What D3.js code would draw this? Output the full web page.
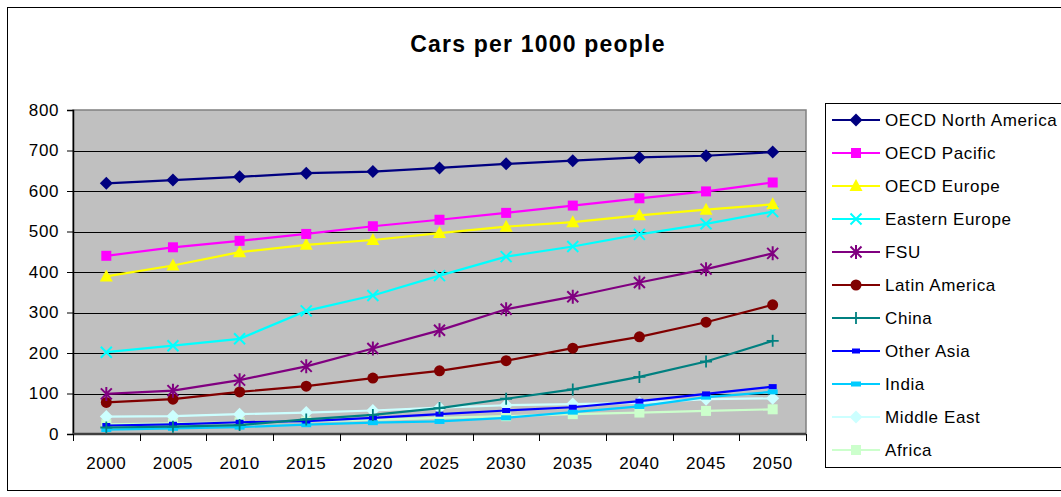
<!DOCTYPE html>
<html>
<head>
<meta charset="utf-8">
<script src="https://cdn.jsdelivr.net/npm/d3@7/dist/d3.min.js"></script>
<style>
  html, body { margin: 0; padding: 0; background: #fff; }
  svg { display: block; font-family: Arial, "Liberation Sans", sans-serif; }
</style>
</head>
<body>
<svg id="chart" width="1061" height="497"></svg>
<script>
// Years on the category axis
const years = ["2000", "2005", "2010", "2015", "2020", "2025", "2030", "2035", "2040", "2045", "2050"];
const yTicks = [0, 100, 200, 300, 400, 500, 600, 700, 800];

// Cars per 1000 people, by region
const oecdNorthAmerica = [619, 627, 635, 644, 648, 657, 667, 675, 683, 687, 696];
const oecdPacific      = [440, 461, 477, 494, 513, 529, 546, 564, 582, 599, 621];
const oecdEurope       = [389, 416, 449, 467, 479, 496, 512, 523, 540, 554, 567];
const easternEurope    = [202, 218, 235, 304, 342, 391, 438, 463, 493, 519, 549];
const fsu              = [99, 107, 133, 167, 211, 256, 308, 339, 374, 407, 446];
const latinAmerica     = [78, 86, 104, 118, 138, 156, 181, 212, 240, 276, 319];
const china            = [16, 18, 22, 36, 47, 64, 87, 110, 141, 179, 230];
const otherAsia        = [21, 24, 29, 32, 40, 49, 58, 66, 81, 99, 117];
const india            = [11, 14, 17, 23, 28, 31, 40, 54, 68, 91, 104];
const middleEast       = [43, 44, 49, 53, 58, 65, 71, 74, 77, 86, 88];
const africa           = [24, 26, 29, 31, 35, 40, 44, 49, 53, 57, 61];

const series = [
  { name: "OECD North America", values: oecdNorthAmerica, color: "#000080", marker: "diamond" },
  { name: "OECD Pacific",       values: oecdPacific,      color: "#FF00FF", marker: "square" },
  { name: "OECD Europe",        values: oecdEurope,       color: "#FFFF00", marker: "triangle" },
  { name: "Eastern Europe",     values: easternEurope,    color: "#00FFFF", marker: "x" },
  { name: "FSU",                values: fsu,              color: "#800080", marker: "star" },
  { name: "Latin America",      values: latinAmerica,     color: "#800000", marker: "circle" },
  { name: "China",              values: china,            color: "#008080", marker: "plus" },
  { name: "Other Asia",         values: otherAsia,        color: "#0000FF", marker: "dash" },
  { name: "India",              values: india,            color: "#00CCFF", marker: "bar" },
  { name: "Middle East",        values: middleEast,       color: "#CCFFFF", marker: "diamond" },
  { name: "Africa",             values: africa,           color: "#CCFFCC", marker: "square" }
];

const svg = d3.select("#chart");

// Outer chart frame
svg.append("rect")
  .attr("x", 7.5).attr("y", 7.5).attr("width", 1070).attr("height", 483)
  .attr("fill", "#fff").attr("stroke", "#000").attr("stroke-width", 1);

const plot = { left: 73, top: 110, right: 806, bottom: 434 };

const x = d3.scaleBand().domain(years).range([plot.left, plot.right]).paddingInner(0).paddingOuter(0);
const y = d3.scaleLinear().domain([0, 800]).range([plot.bottom, plot.top]);

// Plot area
svg.append("rect")
  .attr("x", plot.left).attr("y", plot.top)
  .attr("width", plot.right - plot.left).attr("height", plot.bottom - plot.top)
  .attr("fill", "#C0C0C0").attr("stroke", "#808080").attr("stroke-width", 1.5);

// Horizontal gridlines
svg.append("g")
  .selectAll("line")
  .data(yTicks.filter(t => t > 0 && t < 800))
  .join("line")
  .attr("x1", plot.left).attr("x2", plot.right)
  .attr("y1", d => Math.round(y(d)) + 0.5).attr("y2", d => Math.round(y(d)) + 0.5)
  .attr("stroke", "#000").attr("stroke-width", 1);

// Y axis
const yAxis = svg.append("g")
  .attr("transform", `translate(${plot.left},0)`)
  .call(d3.axisLeft(y).tickValues(yTicks).tickSize(6).tickPadding(8).tickFormat(d3.format("d")));
yAxis.select(".domain").attr("stroke", "#000").attr("stroke-width", 1.5);
yAxis.selectAll(".tick line").attr("stroke", "#000");
yAxis.selectAll("text")
  .attr("font-size", 17).attr("letter-spacing", "0.6px").attr("fill", "#000")
  .attr("font-family", "Arial, 'Liberation Sans', sans-serif");

// X axis with ticks on category boundaries
const xAxisG = svg.append("g").attr("transform", `translate(0,${plot.bottom})`);
xAxisG.append("line")
  .attr("x1", plot.left).attr("x2", plot.right).attr("y1", 0).attr("y2", 0)
  .attr("stroke", "#404040").attr("stroke-width", 2.5);
const boundaries = years.map(d => x(d)).concat([x(years[years.length - 1]) + x.bandwidth()]);
xAxisG.selectAll("line.tk")
  .data(boundaries)
  .join("line").attr("class", "tk")
  .attr("x1", d => Math.round(d) + 0.5).attr("x2", d => Math.round(d) + 0.5)
  .attr("y1", 0).attr("y2", 7)
  .attr("stroke", "#000").attr("stroke-width", 1);
xAxisG.selectAll("text")
  .data(years)
  .join("text")
  .attr("x", d => x(d) + x.bandwidth() / 2)
  .attr("y", 35)
  .attr("text-anchor", "middle")
  .attr("font-size", 17).attr("letter-spacing", "0.6px").attr("fill", "#000")
  .text(d => d);

// Title
svg.append("text")
  .attr("x", 538).attr("y", 52)
  .attr("text-anchor", "middle")
  .attr("font-size", 23).attr("font-weight", "bold").attr("letter-spacing", "1.2px")
  .attr("fill", "#000")
  .text("Cars per 1000 people");

// Marker drawing
function drawMarker(g, type, color) {
  switch (type) {
    case "diamond":
      g.append("path").attr("d", "M0,-6.5L6.5,0L0,6.5L-6.5,0Z").attr("fill", color);
      break;
    case "square":
      g.append("rect").attr("x", -5).attr("y", -5).attr("width", 10).attr("height", 10).attr("fill", color);
      break;
    case "triangle":
      g.append("path").attr("d", "M0,-7L6.5,5L-6.5,5Z").attr("fill", color);
      break;
    case "x":
      g.append("path").attr("d", "M-5.5,-5.5L5.5,5.5M-5.5,5.5L5.5,-5.5")
        .attr("stroke", color).attr("stroke-width", 2).attr("fill", "none");
      break;
    case "star":
      g.append("path").attr("d", "M-5.5,-5.5L5.5,5.5M-5.5,5.5L5.5,-5.5M0,-7L0,7")
        .attr("stroke", color).attr("stroke-width", 2).attr("fill", "none");
      break;
    case "circle":
      g.append("circle").attr("r", 5.5).attr("fill", color);
      break;
    case "plus":
      g.append("path").attr("d", "M-6,0L6,0M0,-6L0,6")
        .attr("stroke", color).attr("stroke-width", 1.8).attr("fill", "none");
      break;
    case "dash":
      g.append("rect").attr("x", -4).attr("y", -2.5).attr("width", 8).attr("height", 5).attr("fill", color);
      break;
    case "bar":
      g.append("rect").attr("x", -5).attr("y", -2.5).attr("width", 10).attr("height", 5).attr("fill", color);
      break;
  }
}

const line = d3.line()
  .x((d, i) => x(years[i]) + x.bandwidth() / 2)
  .y(d => y(d));

// Series lines and markers (first listed series drawn on top)
const seriesG = svg.append("g");
series.slice().reverse().forEach(s => {
  const g = seriesG.append("g");
  g.append("path")
    .attr("d", line(s.values))
    .attr("fill", "none")
    .attr("stroke", s.color)
    .attr("stroke-width", 2.2);
  s.values.forEach((v, i) => {
    const mg = g.append("g")
      .attr("transform", `translate(${x(years[i]) + x.bandwidth() / 2},${y(v)})`);
    drawMarker(mg, s.marker, s.color);
  });
});

// Legend
const legend = svg.append("g");
legend.append("rect")
  .attr("x", 825.5).attr("y", 103.5).attr("width", 250).attr("height", 364)
  .attr("fill", "#fff").attr("stroke", "#000").attr("stroke-width", 1);
const ly = d3.scalePoint().domain(series.map(s => s.name)).range([120, 450]);
series.forEach(s => {
  const g = legend.append("g").attr("transform", `translate(0,${ly(s.name)})`);
  g.append("line").attr("x1", 832).attr("x2", 880).attr("y1", 0).attr("y2", 0)
    .attr("stroke", s.color).attr("stroke-width", 2);
  const mg = g.append("g").attr("transform", "translate(856,0)");
  drawMarker(mg, s.marker, s.color);
  g.append("text")
    .attr("x", 885).attr("y", 6)
    .attr("font-size", 17).attr("letter-spacing", "0.6px").attr("fill", "#000")
    .text(s.name);
});
</script>
</body>
</html>
